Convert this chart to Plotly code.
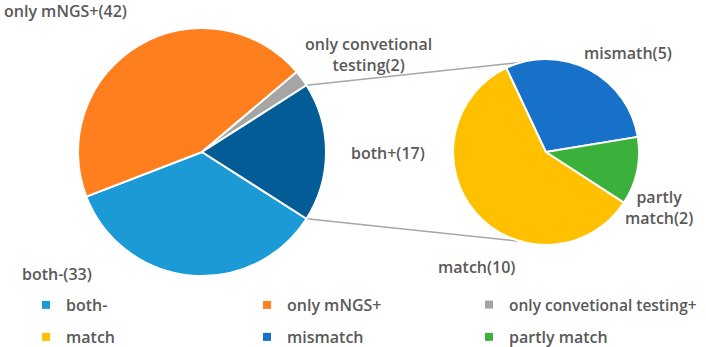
import math
import plotly.graph_objects as go

W, H = 706, 347

# ---- data ----
main_labels = ["both-", "only mNGS+", "only convetional testing+", "both+"]
main_values = [33, 42, 2, 17]
main_label_text = ["both-", "only mNGS+", "only convetional<br>testing", "both+"]
main_colors = ["#1C9AD6", "#FF7F1F", "#A5A5A5", "#035C96"]

sub_labels = ["match", "mismatch", "partly match"]
sub_values = [10, 5, 2]
sub_label_text = ["match", "mismath", "partly<br>match"]
sub_colors = ["#FFC000", "#1871C9", "#3BB03B"]

legend_labels = ["both-", "only mNGS+", "only convetional testing+",
                 "match", "mismatch", "partly match"]
legend_colors = main_colors[:3] + sub_colors

FONT = "Open Sans"
TXT = "#595959"

# ---- geometry (pixels) ----
L_cx, L_cy, L_r = 202, 152, 124
R_cx, R_cy, R_r = 546, 152, 93


def dom(cx, cy, r):
    return dict(x=[(cx - r) / W, (cx + r) / W],
                y=[(H - cy - r) / H, (H - cy + r) / H])


split_half = 180 * main_values[3] / sum(main_values)
left_rotation = 90 + split_half

fig = go.Figure()
fig.add_trace(go.Pie(
    labels=main_labels, values=main_values, sort=False, direction="clockwise",
    rotation=left_rotation, domain=dom(L_cx, L_cy, L_r), textinfo="none",
    marker=dict(colors=main_colors, line=dict(color="white", width=2)),
    showlegend=False, hoverinfo="label+value"))
fig.add_trace(go.Pie(
    labels=sub_labels, values=sub_values, sort=False, direction="clockwise",
    rotation=123, domain=dom(R_cx, R_cy, R_r), textinfo="none",
    marker=dict(colors=sub_colors, line=dict(color="white", width=2)),
    showlegend=False, hoverinfo="label+value"))

# legend entries: one small legend per entry, laid out in a 3x2 grid
leg_cols_x = [26, 247, 469]
leg_rows_y = [305, 337]
legend_layouts = {}
for i, (lab, col) in enumerate(zip(legend_labels, legend_colors)):
    lname = "legend" if i == 0 else f"legend{i + 1}"
    fig.add_trace(go.Scatter(
        x=[None], y=[None], mode="markers", name=lab,
        marker=dict(symbol="square", size=8, color=col),
        legend=lname))
    legend_layouts[lname] = dict(
        x=leg_cols_x[i % 3] / W, y=1 - leg_rows_y[i // 3] / H,
        xref="paper", yref="paper",
        xanchor="left", yanchor="middle", orientation="h",
        font=dict(family=FONT, size=15.5 if i == 2 else 16, color=TXT, weight=600),
        bgcolor="rgba(0,0,0,0)", itemclick=False, itemdoubleclick=False)

# connector lines from the split slice edges to the secondary pie
def pt(cx, cy, r, ang_cw_from_top):
    a = math.radians(ang_cw_from_top)
    return cx + r * math.sin(a), cy - r * math.cos(a)

p1 = pt(L_cx, L_cy, L_r, 90 - split_half)
p2 = pt(L_cx, L_cy, L_r, 90 + split_half)
q1 = pt(R_cx, R_cy, R_r, -15)
q2 = pt(R_cx, R_cy, R_r, 196)
shapes = []
for a, b in ((p1, q1), (p2, q2)):
    shapes.append(dict(type="line", xref="paper", yref="paper",
                       x0=a[0] / W, y0=1 - a[1] / H, x1=b[0] / W, y1=1 - b[1] / H,
                       line=dict(color="#A6A6A6", width=1.5), layer="below"))

# data labels
label_pos = {
    "both-": (57, 274),
    "only mNGS+": (65, 11),
    "only convetional testing+": (368, 54),
    "both+": (388, 153),
    "match": (476, 267),
    "mismatch": (628, 53),
    "partly match": (659, 207),
}
annotations = []
for lab, txt, v in list(zip(main_labels, main_label_text, main_values)) + \
        list(zip(sub_labels, sub_label_text, sub_values)):
    x, y = label_pos[lab]
    annotations.append(dict(x=x / W, y=1 - y / H, xref="paper", yref="paper",
                            xanchor="center", yanchor="middle",
                            text=f"{txt}({v})", showarrow=False, align="center",
                            font=dict(family=FONT, size=16, color=TXT, weight=600)))

fig.update_layout(
    width=W, height=H, margin=dict(l=0, r=0, t=0, b=0, autoexpand=False),
    paper_bgcolor="white", plot_bgcolor="white",
    xaxis=dict(visible=False), yaxis=dict(visible=False),
    shapes=shapes, annotations=annotations,
    **legend_layouts,
)

fig.write_html("out.html", config={"displayModeBar": False},
               post_script="document.body.style.margin='0';")
